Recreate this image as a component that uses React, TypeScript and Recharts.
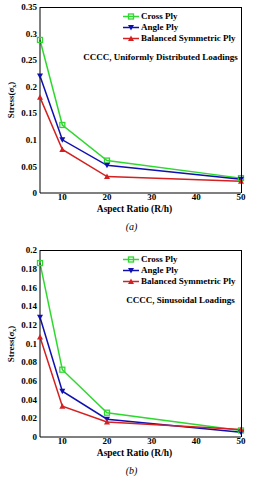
import React from 'react';
import { LineChart, Line, XAxis, YAxis } from 'recharts';

const aspectRatios = [5, 10, 20, 50];
const xTicks = [10, 20, 30, 40, 50];

// (a) uniformly distributed loadings
const crossPlyA = [0.288, 0.128, 0.061, 0.028];
const anglePlyA = [0.22, 0.1, 0.052, 0.026];
const balancedPlyA = [0.18, 0.082, 0.031, 0.022];
const yTicksA = [0, 0.05, 0.1, 0.15, 0.2, 0.25, 0.3, 0.35];

// (b) sinusoidal loadings
const crossPlyB = [0.186, 0.072, 0.026, 0.007];
const anglePlyB = [0.128, 0.049, 0.019, 0.005];
const balancedPlyB = [0.107, 0.033, 0.016, 0.008];
const yTicksB = [0, 0.02, 0.04, 0.06, 0.08, 0.1, 0.12, 0.14, 0.16, 0.18, 0.2];

const seriesNames = ['Cross Ply', 'Angle Ply', 'Balanced Symmetric Ply'];
const colors = ['#2fd82f', '#1010b0', '#d42020'];
const markers = ['square', 'down', 'up'];

const FONT = '"Liberation Serif", "DejaVu Serif", serif';
const W = 254;
const H = 240;
const LEFT = 40;
const RIGHT = 13;
const XAXIS_H = 24;

const Marker = ({ cx, cy, kind, color }: any) => {
  if (cx == null || cy == null) return null;
  if (kind === 'square')
    return <rect x={cx - 2.5} y={cy - 2.5} width={5} height={5} fill="none" stroke={color} strokeWidth={1.3} />;
  if (kind === 'down')
    return <polygon points={`${cx - 3},${cy - 2.5} ${cx + 3},${cy - 2.5} ${cx},${cy + 3}`} fill={color} />;
  return <polygon points={`${cx - 3},${cy + 2.5} ${cx + 3},${cy + 2.5} ${cx},${cy - 3}`} fill={color} />;
};

const fmt = (v: number) => String(Number(v.toFixed(2)));

const Panel = ({ top, series, yMax, yTicks, note, letter, plotTop, plotBottom, labelTop, letterTop }: any) => {
  const data = aspectRatios.map((ar, i) => ({
    ar,
    s0: series[0][i],
    s1: series[1][i],
    s2: series[2][i],
  }));
  const bottomMargin = H - plotBottom - XAXIS_H;
  const tickStyle = { fontSize: 9, fontWeight: 700, fontFamily: FONT, fill: '#000' };
  const textStyle: React.CSSProperties = {
    position: 'absolute',
    fontFamily: FONT,
    fontWeight: 700,
    fontSize: 9,
    color: '#000',
    whiteSpace: 'nowrap',
    lineHeight: 1,
  };
  return (
    <div style={{ position: 'absolute', left: 0, top, width: W, height: H }}>
      <LineChart width={W} height={H} data={data} margin={{ top: plotTop, right: RIGHT, bottom: bottomMargin, left: 0 }}>
        <XAxis
          type="number"
          dataKey="ar"
          domain={[5, 50]}
          ticks={xTicks}
          tickLine={false}
          tickSize={0}
          tickMargin={1}
          height={XAXIS_H}
          tick={tickStyle}
          axisLine={{ stroke: '#000' }}
        />
        <YAxis
          type="number"
          domain={[0, yMax]}
          ticks={yTicks}
          tickFormatter={fmt}
          tickLine={false}
          tickSize={2}
          tickMargin={1}
          width={LEFT}
          tick={tickStyle}
          axisLine={{ stroke: '#000' }}
        />
        {[0, 1, 2].map((k) => (
          <Line
            key={k}
            dataKey={`s${k}`}
            name={seriesNames[k]}
            stroke={colors[k]}
            strokeWidth={1.5}
            isAnimationActive={false}
            dot={(p: any) => <Marker key={`${k}-${p.index}`} cx={p.cx} cy={p.cy} kind={markers[k]} color={colors[k]} />}
          />
        ))}
      </LineChart>
      {/* plot frame (top and right edges) */}
      <div
        style={{
          position: 'absolute',
          left: LEFT,
          top: plotTop,
          width: W - LEFT - RIGHT + 1,
          height: plotBottom - plotTop,
          borderTop: '1px solid #000',
          borderRight: '1px solid #000',
          boxSizing: 'border-box',
          pointerEvents: 'none',
        }}
      />
      {/* legend */}
      {[0, 1, 2].map((k) => (
        <div key={k} style={{ ...textStyle, left: 123, top: plotTop + 5 + k * 11, display: 'flex', alignItems: 'center' }}>
          <svg width={16} height={9} style={{ marginRight: 2 }}>
            <line x1={0} y1={4.5} x2={16} y2={4.5} stroke={colors[k]} strokeWidth={1.5} />
            <Marker cx={8} cy={4.5} kind={markers[k]} color={colors[k]} />
          </svg>
          {seriesNames[k]}
        </div>
      ))}
      <div style={{ ...textStyle, left: LEFT, width: 201, textAlign: 'center', top: plotTop + 46, paddingLeft: note.shift }}>
        {note.text}
      </div>
      <div
        style={{
          ...textStyle,
          left: 12,
          top: (plotTop + plotBottom) / 2,
          transform: 'translate(-50%, -50%) rotate(-90deg)',
        }}
      >
        Stress(σ<sub style={{ fontSize: 6 }}>x</sub>)
      </div>
      <div style={{ ...textStyle, left: LEFT - 6, width: 201, textAlign: 'center', top: labelTop, fontSize: 9.5 }}>
        Aspect Ratio (R/h)
      </div>
      <div style={{ ...textStyle, left: 31, width: 201, textAlign: 'center', top: letterTop, fontSize: 10, fontWeight: 400, fontStyle: 'italic' }}>
        ({letter})
      </div>
    </div>
  );
};

export default function App() {
  return (
    <div style={{ position: 'absolute', left: 0, top: 0, width: W, height: 480, background: '#fff' }}>
      <Panel
        top={0}
        plotTop={7}
        plotBottom={193}
        labelTop={204.5}
        letterTop={222}
        series={[crossPlyA, anglePlyA, balancedPlyA]}
        yMax={0.35}
        yTicks={yTicksA}
        note={{ text: 'CCCC, Uniformly Distributed Loadings', shift: 20 }}
        letter="a"
      />
      <Panel
        top={240}
        plotTop={10}
        plotBottom={197}
        labelTop={208.5}
        letterTop={226}
        series={[crossPlyB, anglePlyB, balancedPlyB]}
        yMax={0.2}
        yTicks={yTicksB}
        note={{ text: 'CCCC, Sinusoidal Loadings', shift: 40 }}
        letter="b"
      />
    </div>
  );
}
